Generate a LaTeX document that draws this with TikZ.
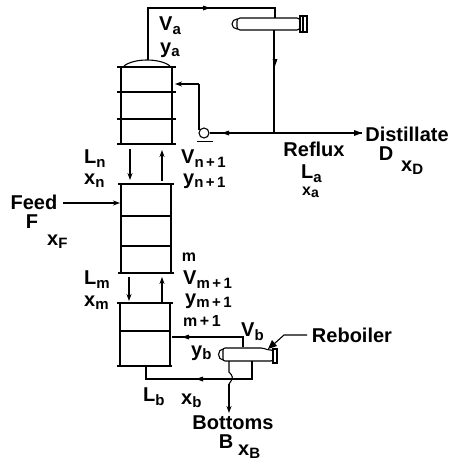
\documentclass[tikz,border=0pt]{standalone}
\usepackage{fontspec}
\setmainfont{Liberation Sans}
\usetikzlibrary{arrows.meta}
\tikzset{
 pipe/.style={line width=1.1pt},
 wall/.style={line width=1.5pt},
 flow/.style={line width=1.1pt,-{Stealth[length=7pt,width=5pt]}},
 lab/.style={inner sep=0pt,font=\fontsize{20}{20}\selectfont\bfseries},
 smalllab/.style={inner sep=0pt,font=\fontsize{16}{16}\selectfont\bfseries}
}
\newcommand{\sbs}[1]{\raisebox{-3.5pt}[0pt][0pt]{\fontsize{15}{15}\selectfont #1}}
\newcommand{\sbt}[1]{\raisebox{-2pt}[0pt][0pt]{\fontsize{14}{14}\selectfont #1}}
\begin{document}
\begin{tikzpicture}[x=1pt,y=-1pt]
\useasboundingbox (0,0) rectangle (453,463);
% top column
\draw[wall] (121,67) -- (121,144) (172,67) -- (172,144);
\foreach \y in {67,92,119,144} \draw[pipe] (117,\y) -- (176,\y);
\draw[pipe] (124,66) .. controls (134,58) and (160,58) .. (170,66);
% vapour to condenser
\coordinate (top) at (148,60);
\coordinate (c1) at (148,8);
\coordinate (c2) at (275,8);
\draw[pipe] (top) -- (c1) -- (c2) -- (275,18);
\fill (210,8) -- ++(-7,-2.5) -- ++(0,5) -- cycle;
% condenser
\draw[pipe,rounded corners=3pt] (237,18) rectangle (300,30);
\draw[pipe] (237,19) arc (270:90:5);
\draw[pipe] (300,15) -- (300,33) (303,15) -- (303,33) (307,15) -- (307,33) (300,16) -- (307,16) (300,32) -- (307,32);
% condensate
\draw[pipe] (274,30) -- (274,133);
\fill (275,66) -- ++(-2.5,-7) -- ++(5,0) -- cycle;
% reflux line
\node[draw,circle,line width=1.1pt,minimum size=10pt,inner sep=0pt] (pump) at (204,133) {};
\coordinate (dist) at (362,133);
\draw[pipe] (pump.east) -- (dist);
\fill (222,133) -- ++(7,-2.5) -- ++(0,5) -- cycle;
\fill (362,133) -- ++(-8,-3) -- ++(0,6) -- cycle;
\draw[pipe] (197,141.5) -- (213,141.5);
\draw[pipe] (199,130) -- (199,84);
\coordinate (rin) at (175,84);
\draw[flow] (199,84) -- (rin);
% connection arrows top/mid
\draw[flow] (130,149) -- (130,180);
\draw[flow] (162,181) -- (162,150);
% middle column
\draw[wall] (121,184) -- (121,273) (171,184) -- (171,273);
\draw[line width=1.6pt] (118,184) -- (174,184);
\foreach \y in {216,246} \draw[pipe] (121,\y) -- (171,\y);
\draw[line width=1.4pt] (118,273) -- (174,273);
% feed
\node[lab] (feed) at (34,202) {Feed};
\draw[flow] (63,203) -- (120,203);
% arrows mid/bottom
\draw[flow] (129,277) -- (129,301);
\draw[flow] (162,303) -- (162,277);
% bottom column
\draw[wall] (120,303) -- (120,366) (170,303) -- (170,366);
\draw[pipe] (117,303) -- (173,303);
\draw[pipe] (120,331) -- (170,331);
\draw[line width=1.4pt] (117,366) -- (172,366);
% reboiler
\draw[pipe] (243,347) -- (243,337) -- (172,337);
\fill (182,337) -- ++(7,-2.5) -- ++(0,5) -- cycle;
\draw[pipe,rounded corners=2pt] (223,361) -- (223,348) -- (263,348) -- (268,350) -- (273,350) -- (273,361) -- cycle;
\draw[pipe] (223,349) arc (270:90:4.5 and 5.5);
\draw[pipe] (273,348) -- (273,364) (277,348) -- (277,364) (273,349) -- (277,349) (273,363) -- (277,363);
% bottoms
\draw[pipe] (146,366) -- (146,379) -- (252,379) -- (252,361);
\fill (196,379) -- ++(7,-2.5) -- ++(0,5) -- cycle;
\draw[pipe] (229,361) -- (229,372) .. controls (233,376) and (233,378) .. (231,381) -- (229,384);
\coordinate (bott) at (229,413);
\draw[flow] (229,384) -- (bott);
% reboiler label
\draw[pipe] (307,335) -- (284,335) -- (274,344);
\fill (268,349) -- (272,340) -- (277,346) -- cycle;
% labels
\node[lab,anchor=west] (va) at (159,24) {V\sbs{a}};
\node[lab,anchor=west] (ya) at (160,50) {y\sbs{a}};
\node[lab,anchor=west] (vn) at (181,157) {V\sbs{n\,+\,1}};
\node[lab,anchor=west] (yn) at (183,181) {y\sbs{n\,+\,1}};
\node[lab,anchor=west] (ln) at (84,157) {L\sbs{n}};
\node[lab,anchor=west] (xn) at (84,179) {x\sbs{n}};
\node[lab] (f) at (32,222) {F};
\node[lab,anchor=west] (xf) at (47,240) {x\sbs{F}};
\node[smalllab] (m) at (189,257) {m};
\node[lab,anchor=west] (vm) at (183,278) {V\sbs{m\,+\,1}};
\node[lab,anchor=west] (lm) at (84,278) {L\sbs{m}};
\node[lab,anchor=west] (xm) at (84,301) {x\sbs{m}};
\node[lab,anchor=west] (ym) at (185,301) {y\sbs{m\,+\,1}};
\node[smalllab] (m1) at (202,321) {m\,+\,1};
\node[lab,anchor=west] (vb) at (241,330) {V\sbs{b}};
\node[lab,anchor=west] (yb) at (191,353) {y\sbs{b}};
\node[lab,anchor=west] (lb) at (143,395) {L\sbs{b}};
\node[lab,anchor=west] (xb) at (181,399) {x\sbs{b}};
\node[lab] (bo) at (233,423) {Bottoms};
\node[lab] (b) at (226,442) {B};
\node[lab,anchor=west] (xB) at (238,450) {x\sbs{B}};
\node[lab] (re) at (352,335) {Reboiler};
\node[lab] (rf) at (314,149) {Reflux};
\node[lab,anchor=west] (la) at (301,172) {L\sbs{a}};
\node[smalllab,anchor=west] (xa) at (302,191) {x\sbt{a}};
\node[lab] (di) at (407,134) {Distillate};
\node[lab] (d) at (386,154) {D};
\node[lab,anchor=west] (xd) at (401,166) {x\sbs{D}};
\end{tikzpicture}
\end{document}
